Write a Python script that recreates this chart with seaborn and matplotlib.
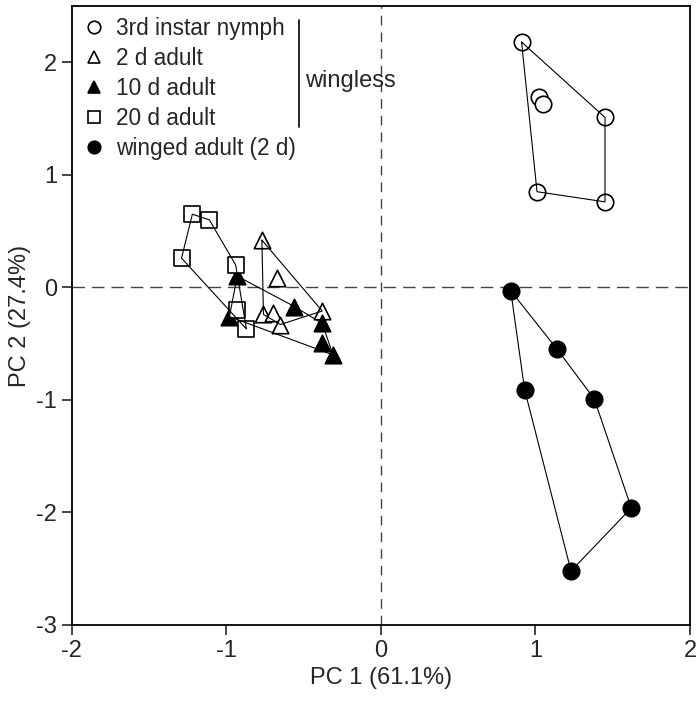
import numpy as np
import pandas as pd
import seaborn as sns
import matplotlib
matplotlib.use("Agg")
import matplotlib.pyplot as plt
from matplotlib.lines import Line2D

# PCA scores
nymph_x = [0.91, 1.02, 1.05, 1.45, 1.01, 1.45]
nymph_y = [2.18, 1.69, 1.63, 1.51, 0.85, 0.76]

adult2_x = [-0.77, -0.67, -0.76, -0.70, -0.65, -0.38]
adult2_y = [0.42, 0.08, -0.24, -0.23, -0.33, -0.21]

adult10_x = [-0.93, -0.56, -0.98, -0.38, -0.38, -0.31]
adult10_y = [0.10, -0.17, -0.26, -0.32, -0.49, -0.60]

adult20_x = [-1.22, -1.11, -1.29, -0.94, -0.93, -0.87]
adult20_y = [0.65, 0.60, 0.26, 0.20, -0.20, -0.37]

winged_x = [0.84, 1.14, 0.93, 1.38, 1.62, 1.23]
winged_y = [-0.03, -0.55, -0.91, -0.99, -1.96, -2.52]

labels = ["3rd instar nymph", "2 d adult", "10 d adult", "20 d adult", "winged adult (2 d)"]
xs = [nymph_x, adult2_x, adult10_x, adult20_x, winged_x]
ys = [nymph_y, adult2_y, adult10_y, adult20_y, winged_y]

markers = ["o", "^", "^", "s", "o"]
faces = ["white", "white", "black", "white", "black"]

df = pd.concat([pd.DataFrame({"pc1": x, "pc2": y, "group": g})
                for x, y, g in zip(xs, ys, labels)], ignore_index=True)


def hull(pts):
    # monotone chain convex hull
    pts = sorted(set(pts))
    def cross(o, a, b):
        return (a[0]-o[0])*(b[1]-o[1]) - (a[1]-o[1])*(b[0]-o[0])
    lower, upper = [], []
    for p in pts:
        while len(lower) >= 2 and cross(lower[-2], lower[-1], p) <= 0:
            lower.pop()
        lower.append(p)
    for p in reversed(pts):
        while len(upper) >= 2 and cross(upper[-2], upper[-1], p) <= 0:
            upper.pop()
        upper.append(p)
    h = lower[:-1] + upper[:-1]
    return h + [h[0]]


sns.set_style("ticks")
plt.rcParams['font.family'] = ['Liberation Sans', 'DejaVu Sans']
plt.rcParams['axes.unicode_minus'] = False

fs = 17
fig = plt.figure(figsize=(6.97, 7.09), dpi=100)
ax = fig.add_axes([0.103, 0.1185, 0.887, 0.873])

ax.axhline(0, color="#444444", lw=1.0, ls=(0, (9, 5)), zorder=1)
ax.axvline(0, color="#444444", lw=1.0, ls=(0, (7, 5)), zorder=1)

for g, m, fc in zip(labels, markers, faces):
    sub = df[df.group == g]
    sns.scatterplot(data=sub, x="pc1", y="pc2", marker=m, color=fc,
                    edgecolor="black", linewidth=1.2, s=140, ax=ax, zorder=3,
                    legend=False)
    h = hull(list(zip(sub.pc1, sub.pc2)))
    ax.plot([p[0] for p in h], [p[1] for p in h], color="black", lw=0.8, zorder=4)

ax.set_xlim(-2, 2)
ax.set_ylim(-3, 2.5)
ax.set_xticks([-2, -1, 0, 1, 2])
ax.set_yticks([-3, -2, -1, 0, 1, 2])
ax.set_xlabel("PC 1 (61.1%)", fontsize=fs, labelpad=4)
ax.set_ylabel("PC 2 (27.4%)", fontsize=fs, labelpad=4)
ax.tick_params(axis="both", labelsize=fs, length=7, width=1.2, direction="out")
for sp in ax.spines.values():
    sp.set_linewidth(1.3)
    sp.set_color("black")

handles = [Line2D([], [], marker=m, ls="none", markerfacecolor=fc,
                  markeredgecolor="black", markeredgewidth=1.2, markersize=9)
           for m, fc in zip(markers, faces)]
ax.legend(handles, labels, loc="upper left", frameon=False, fontsize=16.3,
          handletextpad=0.45, labelspacing=0.31, borderaxespad=0.15,
          handlelength=1.0, borderpad=0.35, bbox_to_anchor=(0.0, 1.0))

ax.plot([0.367, 0.367], [0.978, 0.805], transform=ax.transAxes,
        color="black", lw=1.2, clip_on=False)
ax.text(0.377, 0.879, "wingless", transform=ax.transAxes, fontsize=fs,
        va="center", ha="left")

fig.savefig("out.png", dpi=100)
